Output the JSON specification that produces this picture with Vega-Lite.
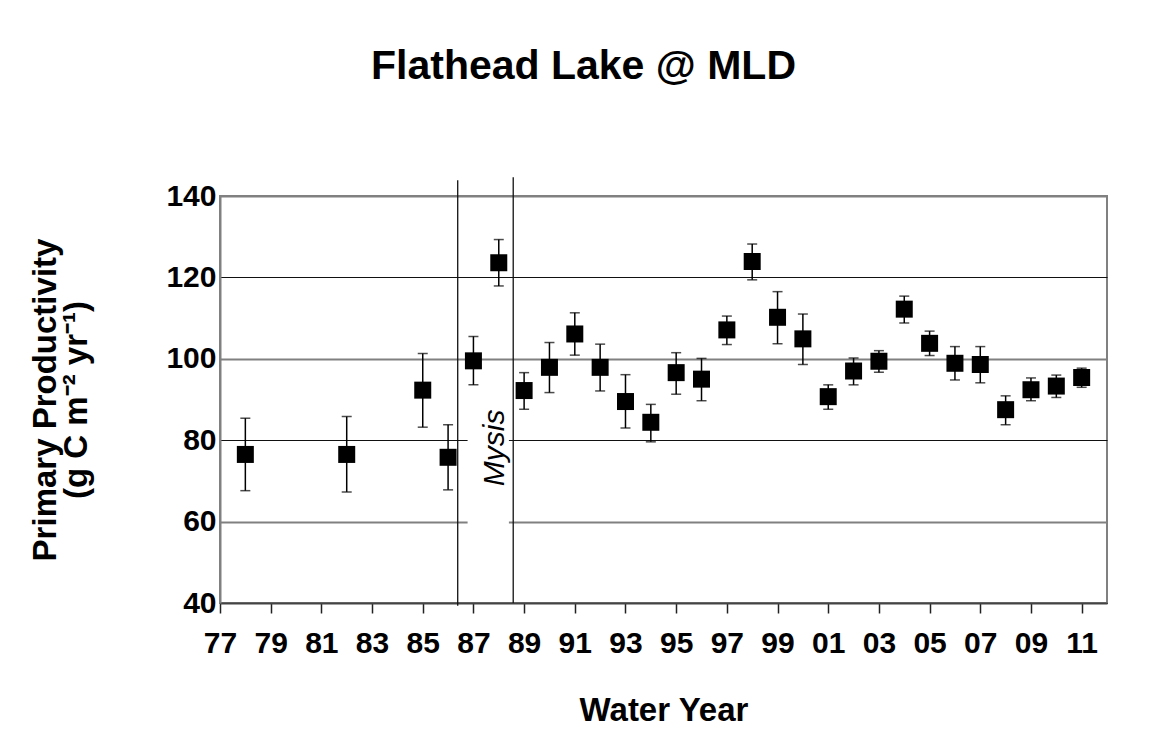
{
  "$schema": "https://vega.github.io/schema/vega-lite/v6.json",
  "width": 887,
  "height": 407,
  "autosize": {"type": "none"},
  "padding": {"left": 220, "top": 196, "right": 60, "bottom": 141},
  "background": "white",
  "title": {
    "text": "Flathead Lake @ MLD",
    "font": "Liberation Sans",
    "fontSize": 41,
    "fontWeight": "bold",
    "color": "black",
    "anchor": "middle",
    "frame": "group",
    "dx": -80,
    "offset": 89
  },
  "config": {
    "view": {"stroke": "#808080", "strokeWidth": 2},
    "font": "Liberation Sans"
  },
  "datasets": {
    "pp": [
      {"year": 1978, "pp": 76.5, "lo": 67.6, "hi": 85.4},
      {"year": 1982, "pp": 76.5, "lo": 67.3, "hi": 85.8},
      {"year": 1985, "pp": 92.3, "lo": 83.2, "hi": 101.3},
      {"year": 1986, "pp": 75.8, "lo": 67.8, "hi": 83.8},
      {"year": 1987, "pp": 99.5, "lo": 93.6, "hi": 105.5},
      {"year": 1988, "pp": 123.6, "lo": 117.9, "hi": 129.3},
      {"year": 1989, "pp": 92.2, "lo": 87.6, "hi": 96.6},
      {"year": 1990, "pp": 97.9, "lo": 91.7, "hi": 104.0},
      {"year": 1991, "pp": 106.1, "lo": 100.9, "hi": 111.3},
      {"year": 1992, "pp": 97.9, "lo": 92.1, "hi": 103.6},
      {"year": 1993, "pp": 89.5, "lo": 83.0, "hi": 96.1},
      {"year": 1994, "pp": 84.4, "lo": 79.6, "hi": 88.8},
      {"year": 1995, "pp": 96.6, "lo": 91.3, "hi": 101.5},
      {"year": 1996, "pp": 95.0, "lo": 89.7, "hi": 100.1},
      {"year": 1997, "pp": 107.1, "lo": 103.5, "hi": 110.5},
      {"year": 1998, "pp": 123.9, "lo": 119.4, "hi": 128.2},
      {"year": 1999, "pp": 110.2, "lo": 103.7, "hi": 116.5},
      {"year": 2000, "pp": 104.9, "lo": 98.6, "hi": 111.0},
      {"year": 2001, "pp": 90.7, "lo": 87.6, "hi": 93.6},
      {"year": 2002, "pp": 97.0, "lo": 93.6, "hi": 100.2},
      {"year": 2003, "pp": 99.4, "lo": 96.7, "hi": 102.0},
      {"year": 2004, "pp": 112.2, "lo": 108.8, "hi": 115.4},
      {"year": 2005, "pp": 103.8, "lo": 100.8, "hi": 106.8},
      {"year": 2006, "pp": 98.9, "lo": 94.8, "hi": 103.0},
      {"year": 2007, "pp": 98.6, "lo": 94.1, "hi": 103.0},
      {"year": 2008, "pp": 87.5, "lo": 83.8, "hi": 90.9},
      {"year": 2009, "pp": 92.4, "lo": 89.7, "hi": 95.3},
      {"year": 2010, "pp": 93.3, "lo": 90.5, "hi": 96.0},
      {"year": 2011, "pp": 95.4, "lo": 93.0, "hi": 97.7}
    ],
    "lines": [
      {"x": 1986.38, "top": 143.9, "bottom": 39.3},
      {"x": 1988.57, "top": 144.6, "bottom": 40}
    ],
    "box": [
      {"x1": 1986.77, "x2": 1988.4, "y1": 50, "y2": 90}
    ],
    "label": [
      {"x": 1987.85, "y": 78.1, "text": "Mysis"}
    ]
  },
  "encoding": {
    "x": {
      "type": "quantitative",
      "scale": {"domain": [1977, 2012], "nice": false, "zero": false},
      "axis": {
        "title": "Water Year",
        "titleFont": "Liberation Sans",
        "titleFontSize": 33,
        "titleFontWeight": "bold",
        "titleColor": "black",
        "titlePadding": 36,
        "values": [1977, 1979, 1981, 1983, 1985, 1987, 1989, 1991, 1993, 1995, 1997, 1999, 2001, 2003, 2005, 2007, 2009, 2011],
        "labelExpr": "substring(toString(datum.value), 2, 4)",
        "labelFont": "Liberation Sans",
        "labelFontSize": 30,
        "labelFontWeight": "bold",
        "labelColor": "black",
        "labelPadding": 15,
        "labelFlush": false,
        "labelOverlap": false,
        "ticks": true,
        "tickSize": 10,
        "tickColor": "#222",
        "tickWidth": 1.5,
        "domainColor": "#444",
        "domainWidth": 2,
        "grid": false
      }
    },
    "y": {
      "type": "quantitative",
      "scale": {"domain": [40, 140], "nice": false, "zero": false},
      "axis": {
        "title": ["Primary Productivity", "(g C m⁻² yr⁻¹)"],
        "titleFont": "Liberation Sans",
        "titleFontSize": 33,
        "titleFontWeight": "bold",
        "titleColor": "black",
        "titleLineHeight": 31,
        "titlePadding": 72,
        "values": [40, 60, 80, 100, 120, 140],
        "labelFont": "Liberation Sans",
        "labelFontSize": 30,
        "labelFontWeight": "bold",
        "labelColor": "black",
        "labelPadding": 4,
        "ticks": false,
        "domainColor": "#808080",
        "domainWidth": 2,
        "grid": true,
        "gridColor": {"condition": {"test": "datum.value % 40 === 0", "value": "#111"}, "value": "#808080"},
        "gridWidth": {"condition": {"test": "datum.value % 40 === 0", "value": 1.2}, "value": 1.8}
      }
    }
  },
  "layer": [
    {
      "data": {"name": "box"},
      "mark": {"type": "rect", "fill": "white", "stroke": null},
      "encoding": {
        "x": {"field": "x1", "type": "quantitative"},
        "x2": {"field": "x2"},
        "y": {"field": "y1", "type": "quantitative"},
        "y2": {"field": "y2"}
      }
    },
    {
      "data": {"name": "lines"},
      "mark": {"type": "rule", "color": "#111", "strokeWidth": 1.3, "clip": false},
      "encoding": {
        "x": {"field": "x", "type": "quantitative"},
        "y": {"field": "top", "type": "quantitative"},
        "y2": {"field": "bottom"}
      }
    },
    {
      "data": {"name": "label"},
      "mark": {"type": "text", "angle": 270, "align": "center", "baseline": "middle", "font": "Liberation Sans", "fontSize": 30, "fontStyle": "italic", "color": "black"},
      "encoding": {
        "x": {"field": "x", "type": "quantitative"},
        "y": {"field": "y", "type": "quantitative"},
        "text": {"field": "text"}
      }
    },
    {
      "data": {"name": "pp"},
      "mark": {"type": "rule", "color": "black", "strokeWidth": 1.5},
      "encoding": {
        "x": {"field": "year", "type": "quantitative"},
        "y": {"field": "lo", "type": "quantitative"},
        "y2": {"field": "hi"}
      }
    },
    {
      "data": {"name": "pp"},
      "mark": {"type": "tick", "orient": "horizontal", "color": "black", "size": 10, "thickness": 1.5},
      "encoding": {
        "x": {"field": "year", "type": "quantitative"},
        "y": {"field": "lo", "type": "quantitative"}
      }
    },
    {
      "data": {"name": "pp"},
      "mark": {"type": "tick", "orient": "horizontal", "color": "black", "size": 10, "thickness": 1.5},
      "encoding": {
        "x": {"field": "year", "type": "quantitative"},
        "y": {"field": "hi", "type": "quantitative"}
      }
    },
    {
      "data": {"name": "pp"},
      "mark": {"type": "point", "shape": "square", "filled": true, "color": "black", "size": 289, "opacity": 1},
      "encoding": {
        "x": {"field": "year", "type": "quantitative"},
        "y": {"field": "pp", "type": "quantitative"}
      }
    }
  ]
}
